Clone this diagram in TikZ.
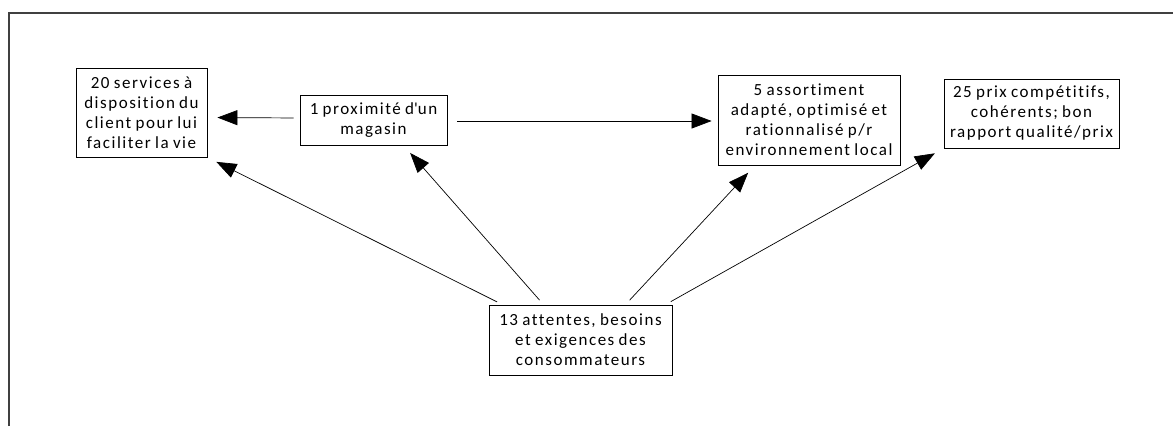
\documentclass[tikz,border=0pt]{standalone}
\usepackage{fontspec}
\setmainfont{Carlito}[LetterSpace=9,WordSpace=0.8,Ligatures=NoCommon]
\usetikzlibrary{arrows.meta,positioning,calc}

\begin{document}
\begin{tikzpicture}[x=1pt,y=-1pt,
    box/.style={draw, line width=0.8pt, align=center, inner sep=0pt,
        font=\fontsize{17}{20}\selectfont},
    link/.style={-{Triangle[length=20pt,width=15pt]}, line width=0.7pt,
        shorten <=6pt, shorten >=10pt}]
    % Frame
    \useasboundingbox (0,0) rectangle (1173,426);
    \draw[line width=1.3pt, black!75] (9,426) -- (9,13) -- (1173,13);

    % Boxes
    \node[box, minimum width=131pt, minimum height=89pt] (serv) at (141.5,112.5)
        {20 services à\\disposition du\\client pour lui\\faciliter la vie};
    \node[box, minimum width=147pt, minimum height=50pt] (prox) at (373.5,120)
        {1 proximité d\textquotesingle un\\magasin};
    \node[box, minimum width=182pt, minimum height=90pt] (assort) at (809,120)
        {5 assortiment\\adapté, optimisé et\\rationnalisé p/r\\environnement local};
    \node[box, minimum width=175pt, minimum height=69pt] (prix) at (1031.5,113.5)
        {25 prix compétitifs,\\cohérents; bon\\rapport qualité/prix};
    \node[box, minimum width=183pt, minimum height=70pt] (att) at (580.5,340)
        {13 attentes, besoins\\et exigences des\\consommateurs};

    % Arrows between the top boxes
    \draw[link] ([yshift=2pt]prox.west) -- ([yshift=-5pt]serv.east);
    \draw[link, shorten <=10pt, shorten >=6pt] ([yshift=-1pt]prox.east) -- ([yshift=-1pt]assort.west);

    % Arrows from the needs box
    \draw[link] ([xshift=-78pt]att.north) -- (serv.south east);
    \draw[link] ([xshift=-37pt]att.north) -- ([xshift=30pt]prox.south);
    \draw[link] ([xshift=45pt]att.north) -- ([xshift=-54pt]assort.south);
    \draw[link] ([xshift=85pt]att.north) -- (prix.south west);
\end{tikzpicture}
\end{document}
